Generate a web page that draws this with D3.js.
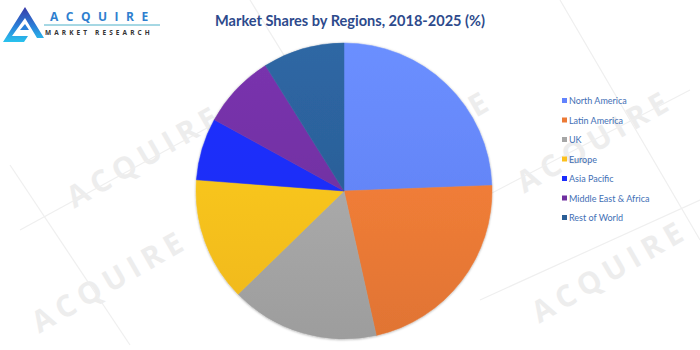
<!DOCTYPE html>
<meta charset="utf-8">
<html>
<head>
  <script src="https://d3js.org/d3.v7.min.js" charset="utf-8"></script>
  <style>
    body { margin: 0; background: #fff; }
    svg { display: block; }
    .title { font-family: Lato, 'Open Sans', sans-serif; font-weight: 700; fill: #2d4a8c; }
    .legend text { font-family: Lato, 'Open Sans', sans-serif; font-size: 9px; fill: #3f6fb5; }
    .mark { font-family: 'Open Sans', sans-serif; font-weight: 700; fill: #ededed; letter-spacing: 6px; }
  </style>
</head>
<body>
<script>
  // Data
  var regions = ['North America', 'Latin America', 'UK', 'Europe', 'Asia Pacific', 'Middle East & Africa', 'Rest of World'];
  var shares = [24.4, 22.1, 16.2, 13.5, 6.8, 8.1, 8.9];
  var colors = ['#6283fd', '#ec7a36', '#a6a6a6', '#fcc01c', '#1a2cfd', '#7030a0', '#2a5e96'];

  var W = 700, H = 350;
  var cx = 344, cy = 191, R = 148;

  var svg = d3.select('body').append('svg')
    .attr('width', W)
    .attr('height', H);

  var defs = svg.append('defs');

  // faint watermarks
  var marks = [
    [150, 165, -30], [420, 150, -30], [600, 150, -30],
    [115, 290, -30], [615, 280, -30]
  ];
  svg.selectAll('.mark')
    .data(marks)
    .enter()
    .append('text')
    .attr('class', 'mark')
    .attr('font-size', 30)
    .attr('text-anchor', 'middle')
    .attr('transform', d => `translate(${d[0]},${d[1]}) rotate(${d[2]})`)
    .text('ACQUIRE');

  var lines = [[20, 230, 240, 110], [10, 165, 130, 345], [440, 220, 690, 90], [250, 0, 330, 130], [560, 0, 700, 240], [480, 300, 700, 200]];
  svg.selectAll('.wline')
    .data(lines)
    .enter()
    .append('line')
    .attr('x1', d => d[0]).attr('y1', d => d[1])
    .attr('x2', d => d[2]).attr('y2', d => d[3])
    .attr('stroke', '#efefef')
    .attr('stroke-width', 1.2);

  // logo
  var lg = defs.append('linearGradient')
    .attr('id', 'logoGrad')
    .attr('x1', 0).attr('y1', 0).attr('x2', 0).attr('y2', 1);
  lg.append('stop').attr('offset', '0%').attr('stop-color', '#3a3aa8');
  lg.append('stop').attr('offset', '55%').attr('stop-color', '#2a7fd8');
  lg.append('stop').attr('offset', '100%').attr('stop-color', '#29c3ee');

  var logo = svg.append('g');
  logo.append('path')
    .attr('d', 'M3,42 L25,7 L44,38 L37,38 L25,18 L12,36 L28,36 L24,42 Z')
    .attr('fill', 'url(#logoGrad)');
  logo.append('path')
    .attr('d', 'M20,30 L25,24 L29,30 Z')
    .attr('fill', '#2a7fd8');
  logo.append('text')
    .attr('x', 50).attr('y', 21)
    .attr('font-family', 'Open Sans, sans-serif')
    .attr('font-weight', 700)
    .attr('font-size', 12)
    .attr('letter-spacing', 7.5)
    .attr('fill', '#2f7fcf')
    .text('ACQUIRE');
  logo.append('line')
    .attr('x1', 44).attr('y1', 25).attr('x2', 160).attr('y2', 25)
    .attr('stroke', '#4db0c8').attr('stroke-width', 1);
  logo.append('text')
    .attr('x', 45).attr('y', 35)
    .attr('font-family', 'Open Sans, sans-serif')
    .attr('font-weight', 700)
    .attr('font-size', 6.5)
    .attr('letter-spacing', 3.1)
    .attr('fill', '#333')
    .text('MARKET RESEARCH');

  // title
  var title = svg.append('text')
    .attr('class', 'title')
    .attr('x', 350)
    .attr('y', 26)
    .attr('text-anchor', 'middle')
    .attr('font-size', 16)
    .text('Market Shares by Regions, 2018-2025 (%)');
  var tw = title.node().getComputedTextLength();
  title.attr('font-size', 16 * 270 / tw);

  // slice gradients (in the pie group's coordinates)
  colors.forEach(function (c, i) {
    var g = defs.append('linearGradient')
      .attr('id', 'g' + i)
      .attr('gradientUnits', 'userSpaceOnUse')
      .attr('x1', 0).attr('y1', -R)
      .attr('x2', 0).attr('y2', R);
    g.append('stop').attr('offset', '0%').attr('stop-color', d3.color(c).brighter(0.25));
    g.append('stop').attr('offset', '100%').attr('stop-color', d3.color(c).darker(0.15));
  });

  var shadow = defs.append('filter').attr('id', 'shadow')
    .attr('x', '-10%').attr('y', '-10%').attr('width', '120%').attr('height', '120%');
  shadow.append('feDropShadow')
    .attr('dx', 0).attr('dy', 0.5)
    .attr('stdDeviation', 1)
    .attr('flood-color', '#000')
    .attr('flood-opacity', 0.35);

  var pie = d3.pie().sort(null).value(d => d);
  var arc = d3.arc().innerRadius(0).outerRadius(R);

  var chart = svg.append('g')
    .attr('transform', `translate(${cx},${cy})`)
    .attr('filter', 'url(#shadow)');

  chart.selectAll('path')
    .data(pie(shares))
    .enter()
    .append('path')
    .attr('d', arc)
    .attr('fill', (d, i) => `url(#g${i})`)
    .attr('stroke', (d, i) => `url(#g${i})`)
    .attr('stroke-width', 0.5);

  // legend
  var legend = svg.append('g')
    .attr('class', 'legend')
    .attr('transform', 'translate(562,101)');

  var row = legend.selectAll('g')
    .data(regions)
    .enter()
    .append('g')
    .attr('transform', (d, i) => `translate(0,${i * 19.5})`);

  row.append('rect')
    .attr('x', 0).attr('y', -3)
    .attr('width', 5).attr('height', 5)
    .attr('fill', (d, i) => colors[i]);

  row.append('text')
    .attr('x', 7)
    .attr('y', 3)
    .text(d => d);
</script>
</body>
</html>
